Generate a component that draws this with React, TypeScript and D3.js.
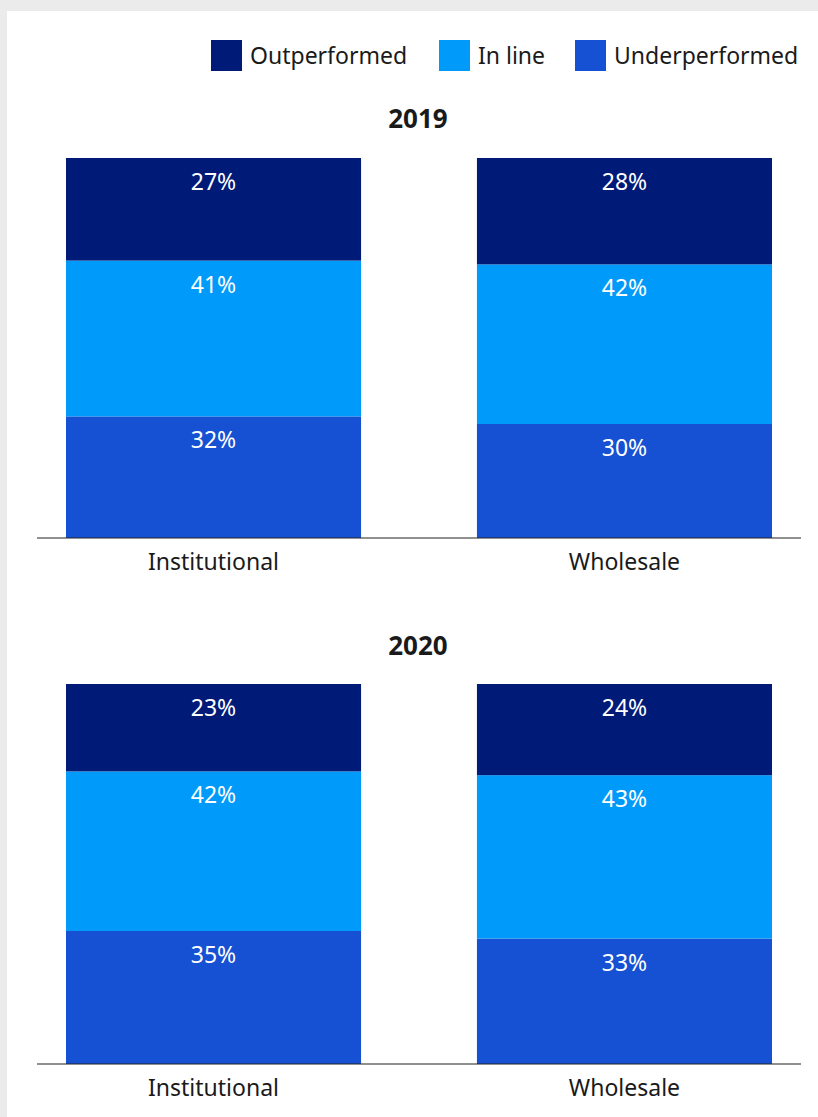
import { useEffect, useRef } from 'react';
import * as d3 from 'd3';

const categories = ['Institutional', 'Wholesale'];
const years = ['2019', '2020'];
const seriesNames = ['Underperformed', 'In line', 'Outperformed'];
const legendOrder = ['Outperformed', 'In line', 'Underperformed'];

// values per year, per category
const underperformed = { '2019': [32, 30], '2020': [35, 33] };
const inLine = { '2019': [41, 42], '2020': [42, 43] };
const outperformed = { '2019': [27, 28], '2020': [23, 24] };

const colors: Record<string, string> = {
  Outperformed: '#001a78',
  'In line': '#009bfa',
  Underperformed: '#1650d3',
};

const FONT = "'Noto Sans', sans-serif";

export default function App() {
  const svgRef = useRef<SVGSVGElement>(null);
  const width = 818;
  const height = 1117;

  useEffect(() => {
    if (!svgRef.current) return;
    const svg = d3.select(svgRef.current);
    svg.selectAll('*').remove();

    // background frame
    svg.append('rect').attr('width', width).attr('height', height).attr('fill', '#ebebeb');
    svg.append('rect').attr('x', 7).attr('y', 11).attr('width', width - 7).attr('height', height - 11).attr('fill', '#fff');

    // legend
    const legendX = [211, 439, 575];
    legendOrder.forEach((name, i) => {
      const lg = svg.append('g').attr('transform', `translate(${legendX[i]},40)`);
      lg.append('rect').attr('width', 31).attr('height', 31).attr('fill', colors[name]);
      lg.append('text')
        .attr('x', 39)
        .attr('y', 24)
        .attr('font-family', FONT)
        .attr('font-size', 23)
        .attr('fill', '#1a1a1a')
        .text(name);
    });

    const x = d3.scaleBand<string>().domain(categories).range([37, 801]).paddingInner(0.282).paddingOuter(0.0706);

    const panels = [
      { year: years[0], titleY: 128, top: 158, bottom: 538 },
      { year: years[1], titleY: 655, top: 684, bottom: 1064 },
    ];

    panels.forEach((p) => {
      const y = d3.scaleLinear().domain([0, 100]).range([p.bottom, p.top]);
      const g = svg.append('g');

      g.append('text')
        .attr('x', 418)
        .attr('y', p.titleY)
        .attr('text-anchor', 'middle')
        .attr('font-family', FONT)
        .attr('font-size', 26)
        .attr('font-weight', 'bold')
        .attr('fill', '#1a1a1a')
        .text(p.year);

      const rows = categories.map((c, i) => ({
        category: c,
        Underperformed: underperformed[p.year as '2019'][i],
        'In line': inLine[p.year as '2019'][i],
        Outperformed: outperformed[p.year as '2019'][i],
      }));

      const stacked = d3.stack<any>().keys(seriesNames)(rows);

      stacked.forEach((layer) => {
        layer.forEach((d) => {
          const cat = d.data.category as string;
          const bx = x(cat)!;
          g.append('rect')
            .attr('x', bx)
            .attr('y', y(d[1]))
            .attr('width', x.bandwidth())
            .attr('height', y(d[0]) - y(d[1]))
            .attr('fill', colors[layer.key]);
          g.append('text')
            .attr('x', bx + x.bandwidth() / 2)
            .attr('y', y(d[1]) + 32)
            .attr('text-anchor', 'middle')
            .attr('font-family', FONT)
            .attr('font-size', 23)
            .attr('fill', '#fff')
            .text(`${d[1] - d[0]}%`);
        });
      });

      // axis
      const axis = g
        .append('g')
        .attr('transform', `translate(0,${p.bottom})`)
        .call(d3.axisBottom(x).tickSize(0).tickPadding(16));
      axis.select('.domain').attr('stroke', '#222').attr('stroke-width', 1.2).attr('d', `M37,0H801`);
      axis
        .selectAll('text')
        .attr('font-family', FONT)
        .attr('font-size', 23)
        .attr('fill', '#1a1a1a');
    });
  }, []);

  return (
    <div style={{ position: 'absolute', left: 0, top: 0 }}>
      <svg ref={svgRef} width={width} height={height} style={{ display: 'block' }} />
    </div>
  );
}
